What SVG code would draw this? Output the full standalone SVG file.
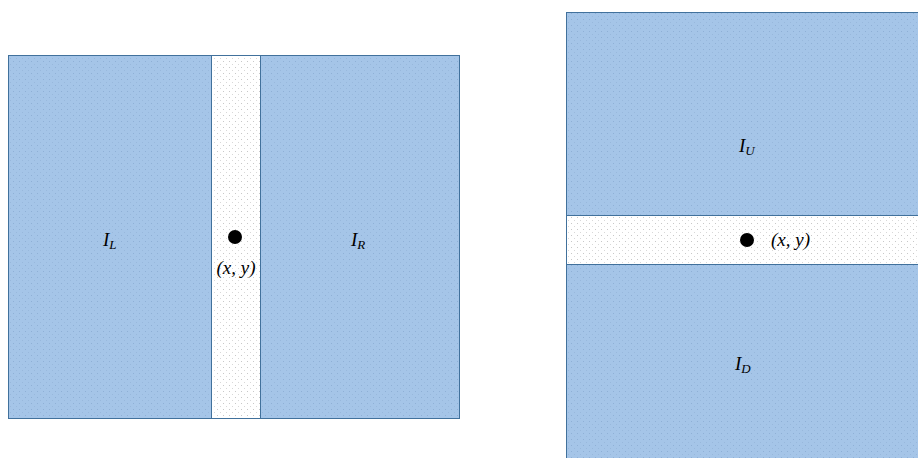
<svg xmlns="http://www.w3.org/2000/svg" width="918" height="458" viewBox="0 0 918 458">
<defs>
<pattern id="dotsB" width="6" height="6" patternUnits="userSpaceOnUse">
<rect width="6" height="6" fill="#a5c5e8"/>
<rect x="1" y="1" width="1" height="1" fill="#8fb0d6"/>
<rect x="4" y="4" width="1" height="1" fill="#98b8dc"/>
</pattern>
<pattern id="dotsW" width="6" height="6" patternUnits="userSpaceOnUse">
<rect width="6" height="6" fill="#ffffff"/>
<rect x="1" y="1" width="1" height="1" fill="#c8c8c8"/>
<rect x="4" y="4" width="1" height="1" fill="#d8d8d8"/>
</pattern>
<style>
.blue{fill:url(#dotsB);stroke:#41719c;stroke-width:1}
.white{fill:url(#dotsW);stroke:#41719c;stroke-width:1}
.lbl{font-family:"Liberation Serif","DejaVu Serif",serif;font-style:italic;font-size:19px;fill:#000}
.sub{font-size:13px}
</style>
</defs>
<g id="left">
<rect class="blue" x="8.5" y="55.5" width="451" height="363"/>
<rect class="white" x="211.5" y="55.5" width="49" height="363"/>
<circle cx="235" cy="237" r="7" fill="#000"/>
<text class="lbl" x="236" y="274" text-anchor="middle">(x, y)</text>
<text class="lbl" x="103" y="246">I<tspan class="sub" dy="3">L</tspan></text>
<text class="lbl" x="351" y="246">I<tspan class="sub" dy="3">R</tspan></text>
</g>
<g id="right">
<rect class="blue" x="566.5" y="12.5" width="355" height="450"/>
<rect class="white" x="566.5" y="215.5" width="355" height="49"/>
<circle cx="747" cy="240" r="7" fill="#000"/>
<text class="lbl" x="771" y="246">(x, y)</text>
<text class="lbl" x="739" y="152">I<tspan class="sub" dy="3">U</tspan></text>
<text class="lbl" x="735" y="370">I<tspan class="sub" dy="3">D</tspan></text>
</g>
</svg>
